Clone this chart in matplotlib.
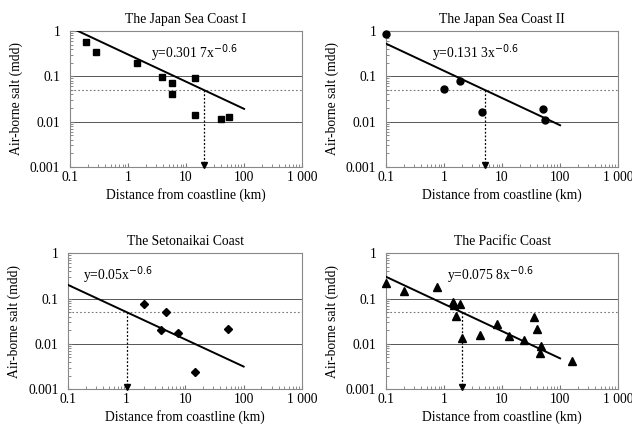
import numpy as np
import matplotlib
matplotlib.use("Agg")
import matplotlib.pyplot as plt
from matplotlib.ticker import FixedLocator, LogLocator, NullFormatter

plt.rcParams['font.family'] = ['Liberation Serif', 'DejaVu Serif']

# panel titles and fitted coefficients (y = a * x^-0.6)
titles = ["The Japan Sea Coast I", "The Japan Sea Coast II",
          "The Setonaikai Coast", "The Pacific Coast"]
coefs = [0.3017, 0.1313, 0.05, 0.0758]
eq_labels = [r"y=0.301 7x$^{-0.6}$", r"y=0.131 3x$^{-0.6}$",
             r"y=0.05x$^{-0.6}$", r"y=0.075 8x$^{-0.6}$"]
eq_pos = [(2.5, 0.33), (0.62, 0.33), (0.18, 0.32), (1.12, 0.33)]
exponent = -0.6
threshold = 0.05

# measured points
x1 = [0.19, 0.28, 1.4, 3.9, 5.7, 5.7, 14, 14, 40, 55]
y1 = [0.56, 0.34, 0.2, 0.097, 0.072, 0.04, 0.09, 0.014, 0.0115, 0.0125]

x2 = [0.1, 1.0, 1.9, 4.5, 50, 55]
y2 = [0.87, 0.051, 0.08, 0.016, 0.019, 0.011]

x3 = [2.0, 4.7, 3.9, 7.5, 15, 55]
y3 = [0.075, 0.05, 0.02, 0.017, 0.0024, 0.021]

x4 = [0.1, 0.2, 0.75, 1.4, 1.5, 1.9, 1.6, 2.0, 4.2, 8.3, 13, 24, 35, 40, 47, 45, 160]
y4 = [0.22, 0.145, 0.18, 0.082, 0.072, 0.077, 0.041, 0.0138, 0.0156, 0.028,
      0.015, 0.012, 0.04, 0.021, 0.0088, 0.0064, 0.0042]

xs = [x1, x2, x3, x4]
ys = [y1, y2, y3, y4]
markers = ['s', 'o', 'D', '^']
msizes = [4.6, 5.0, 4.0, 5.2]

xticks = [0.1, 1, 10, 100, 1000]
xticklabels = ["0.1", "1", "10", "100", "1 000"]
yticks = [0.001, 0.01, 0.1, 1]
yticklabels = ["0.001", "0.01", "0.1", "1"]

fig = plt.figure(figsize=(6.32, 4.30), dpi=100)
rects = [[0.111, 0.612, 0.367, 0.316], [0.611, 0.612, 0.367, 0.316],
         [0.108, 0.095, 0.370, 0.316], [0.611, 0.095, 0.367, 0.316]]

fs = 9.8
for i in range(4):
    ax = fig.add_axes(rects[i])
    ax.set_xscale('log')
    ax.set_yscale('log')
    ax.set_xlim(0.1, 1000)
    ax.set_ylim(0.001, 1)

    # reference lines
    for g in [0.1, 0.01]:
        ax.axhline(g, color='#555555', lw=0.7, zorder=1)
    ax.axhline(threshold, color='#777777', lw=0.8, ls=(0, (1.5, 2)), zorder=1)

    # regression line
    xf = np.array([0.1, 100])
    ax.plot(xf, coefs[i] * xf ** exponent, color='black', lw=1.4, zorder=3)

    # where the fit crosses the threshold
    xc = (threshold / coefs[i]) ** (1 / exponent)
    ax.plot([xc, xc], [threshold, 0.001], color='black', lw=0.9,
            ls=(0, (1.5, 1.5)), zorder=2)
    ax.plot([xc], [0.0011], marker='v', color='black', ms=4, clip_on=False, zorder=4)

    ax.plot(xs[i], ys[i], ls='none', marker=markers[i], color='black',
            ms=msizes[i], clip_on=False, zorder=4)

    ax.text(eq_pos[i][0], eq_pos[i][1], eq_labels[i], fontsize=fs,
            va='center', ha='left')

    ax.set_title(titles[i], fontsize=fs, pad=6)
    ax.set_xlabel("Distance from coastline (km)", fontsize=fs, labelpad=3)
    ax.set_ylabel("Air-borne salt (mdd)", fontsize=fs, labelpad=5)

    ax.xaxis.set_major_locator(FixedLocator(xticks))
    ax.set_xticklabels(xticklabels)
    ax.yaxis.set_major_locator(FixedLocator(yticks))
    ax.set_yticklabels(yticklabels)
    ax.xaxis.set_minor_locator(LogLocator(base=10, subs=np.arange(2, 10)))
    ax.yaxis.set_minor_locator(LogLocator(base=10, subs=np.arange(2, 10)))
    ax.xaxis.set_minor_formatter(NullFormatter())
    ax.yaxis.set_minor_formatter(NullFormatter())
    ax.tick_params(which='both', direction='in', color='#777777', labelsize=fs)
    ax.tick_params(axis='x', which='major', length=3, pad=3)
    ax.tick_params(axis='y', which='major', length=3, pad=7)
    ax.tick_params(which='minor', length=2)
    for sp in ax.spines.values():
        sp.set_color('#888888')
        sp.set_linewidth(0.8)

fig.savefig("out.png", dpi=100)
